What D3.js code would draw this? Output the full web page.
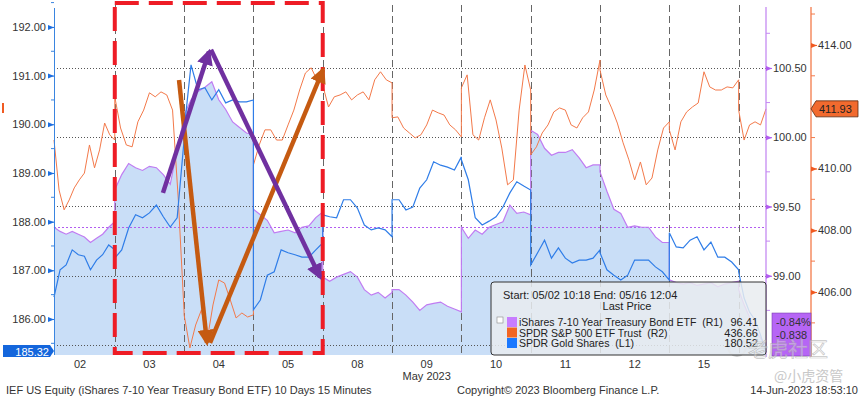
<!DOCTYPE html>
<html>
<head>
<meta charset="utf-8">
<script src="https://cdn.jsdelivr.net/npm/d3@7"></script>
<style>
body{margin:0;background:#fff;}
svg{display:block;font-family:"Liberation Sans",Arial,sans-serif;}
</style>
</head>
<body>
<svg id="chart" width="863" height="397"></svg>
<script>
// trading days shown on the x axis (May 2023), 16 has no label
var dayLabels = ["02","03","04","05","08","09","10","11","12","15"];
var firstOpen = 48;   // 10:18 = 48 min after 9:30
var lastClose = 154;  // 12:04

// iShares 7-10 Year Treasury Bond ETF (R1), one array per day
var iefValues = [
  [99.35,99.32,99.30,99.32,99.30,99.28,99.24,99.27,99.30,99.35,99.39],
  [99.62,99.73,99.81,99.78,99.76,99.79,99.78,99.73,99.66,99.91,100.14],
  [100.16,100.27,100.33,100.36,100.40,100.27,100.20,100.11,100.07,100.03,100.02],
  [99.48,99.44,99.40,99.31,99.32,99.33,99.31,99.35,99.36,99.42,99.46],
  [98.99,98.96,98.99,99.01,99.03,98.99,98.90,98.86,98.88,98.84,98.88],
  [98.90,98.90,98.86,98.81,98.75,98.79,98.80,98.81,98.78,98.76,98.74],
  [99.35,99.27,99.33,99.30,99.35,99.37,99.39,99.51,99.45,99.46,99.44],
  [100.05,100.02,99.92,99.87,99.89,99.89,99.91,99.85,99.78,99.80,99.80],
  [99.75,99.61,99.48,99.45,99.35,99.36,99.35,99.35,99.28,99.24,99.24],
  [98.97,98.95,98.94,98.95,98.93,98.94,98.95,98.92,98.94,98.95,98.96],
  [98.90,98.79,98.70,98.61,98.55,98.50]
];
// SPDR S&P 500 ETF Trust (R2)
var spyValues = [
  [410.92,409.30,408.66,408.98,409.37,409.63,409.85,410.76,410.02,410.60,411.47,411.09,410.92],
  [412.32,411.31,410.76,410.70,411.51,411.89,412.45,412.32,412.48,412.38,411.89,408.98,405.35],
  [405.26,404.19,404.93,405.42,404.45,405.58,406.39,406.29,405.74,405.16,405.32,405.19,405.26],
  [410.11,410.76,411.25,411.25,410.92,410.92,411.41,411.89,412.54,413.09,413.26,412.87,413.03],
  [412.70,411.99,412.32,412.38,412.48,412.22,412.38,412.48,412.22,412.87,413.13,412.87,412.77],
  [411.64,411.67,411.31,411.15,410.99,411.09,411.41,411.89,411.80,411.73,411.41,411.25,411.02],
  [412.61,413.03,411.09,410.92,411.64,412.22,411.57,410.66,409.47,409.63,411.89,413.35,412.54],
  [410.44,410.70,411.15,411.41,411.83,411.96,411.89,411.41,411.31,411.64,411.83,412.54,413.51],
  [413.19,412.38,411.96,411.47,410.83,410.28,409.63,410.21,409.47,409.69,410.60,411.31,411.51],
  [411.25,410.60,411.51,411.83,411.99,412.12,413.13,412.64,412.54,412.54,412.64,412.61,412.87],
  [411.89,410.92,411.41,411.51,411.41,411.93]
];
// SPDR Gold Shares (L1)
var gldValues = [
  [186.45,187.01,187.11,187.42,187.32,187.29,187.01,187.21,187.32,187.52,187.42],
  [187.25,187.42,187.87,188.14,188.08,188.18,188.34,188.10,187.89,188.08,189.68],
  [189.88,191.22,190.71,190.75,190.50,190.71,190.44,190.50,190.46,190.46,190.50],
  [186.19,186.39,186.90,186.97,187.42,187.36,187.32,187.27,187.27,187.42,187.56],
  [188.14,188.10,188.08,188.45,188.45,188.28,187.93,187.83,187.87,187.83,187.69],
  [188.45,188.45,188.24,188.30,188.69,188.86,189.23,189.16,189.12,189.06,189.33],
  [189.27,188.86,188.08,187.93,188.01,188.10,188.30,188.59,188.82,188.73,188.65],
  [187.11,187.36,187.62,187.25,187.46,187.25,187.15,187.21,187.21,187.25,187.42],
  [187.36,187.01,186.90,186.80,186.90,187.21,187.21,187.21,187.07,186.97,186.80],
  [187.77,187.48,187.46,187.62,187.69,187.42,187.58,187.27,187.27,187.17,187.01],
  [186.97,186.43,186.14,185.98,185.67,185.32]
];

var leftTicks = [186,187,188,189,190,191,192];
var r1Ticks = [98.5,99,99.5,100,100.5];
var r2Ticks = [406,408,410,414];   // 412 sits under the last price tag

var legendRows = [
  {name:"iShares 7-10 Year Treasury Bond ETF\u00a0\u00a0(R1)", last:"96.41", color:"#c77dff"},
  {name:"SPDR S&P 500 ETF Trust\u00a0\u00a0(R2)", last:"436.66", color:"#f26522"},
  {name:"SPDR Gold Shares\u00a0\u00a0(L1)", last:"180.52", color:"#1a78ff"}
];

// hand drawn arrows, [day position, gold price]
var purpleArrows = [[[1.695,188.59],[2.359,191.49]], [[2.388,191.53],[3.961,186.86]]];
var orangeArrows = [[[1.927,190.91],[2.330,185.51]], [[2.374,185.51],[4.004,191.12]]];

var svg = d3.select("#chart");
var plot = {left:54, right:766, top:6, bottom:355};

function toPoints(series){
  var pts = [];
  series.forEach(function(vals, d){
    var a = d === 0 ? firstOpen : 0;
    var b = d === series.length-1 ? lastClose : 390;
    vals.forEach(function(v, k){
      pts.push({t: d*390 + a + k*(b-a)/(vals.length-1), v: v});
    });
  });
  return pts;
}
var ief = toPoints(iefValues), spy = toPoints(spyValues), gld = toPoints(gldValues);

var x = d3.scaleLinear().domain([firstOpen, 10*390+lastClose]).range([plot.left, plot.right]);
var yL = d3.scaleLinear().domain([185.26,192.43]).range([plot.bottom, plot.top]);
var yR1 = d3.scaleLinear().domain([98.428,100.947]).range([plot.bottom, plot.top]);
var yR2 = d3.scaleLinear().domain([403.96,415.26]).range([plot.bottom, plot.top]);

// area under the bond ETF
svg.append("path")
  .datum(ief)
  .attr("fill", "#c9def7")
  .attr("d", d3.area().x(d => x(d.t)).y0(plot.bottom).y1(d => yR1(d.v)));

// grid
svg.append("g").selectAll("line").data(r1Ticks).join("line")
  .attr("x1", plot.left).attr("x2", plot.right)
  .attr("y1", d => Math.round(yR1(d))+0.5).attr("y2", d => Math.round(yR1(d))+0.5)
  .attr("stroke", "#555").attr("stroke-dasharray", "1,2");
svg.append("line")
  .attr("x1", plot.left).attr("x2", plot.right)
  .attr("y1", Math.round(yR1(ief[0].v))+0.5).attr("y2", Math.round(yR1(ief[0].v))+0.5)
  .attr("stroke", "#b25cf0").attr("stroke-width", 1.2).attr("stroke-dasharray", "2,2");
svg.append("g").selectAll("line").data(d3.range(1, 11)).join("line")
  .attr("x1", d => Math.round(x(d*390))+0.5).attr("x2", d => Math.round(x(d*390))+0.5)
  .attr("y1", plot.top-1).attr("y2", plot.bottom)
  .attr("stroke", "#666").attr("stroke-dasharray", "7,4");

// series
svg.append("path").datum(ief).attr("fill","none").attr("stroke","#c07cf2").attr("stroke-width",1.2)
  .attr("d", d3.line().x(d => x(d.t)).y(d => yR1(d.v)));
svg.append("path").datum(spy).attr("fill","none").attr("stroke","#f3794a").attr("stroke-width",1)
  .attr("d", d3.line().x(d => x(d.t)).y(d => yR2(d.v)));
svg.append("path").datum(gld).attr("fill","none").attr("stroke","#2f7de8").attr("stroke-width",1.2)
  .attr("d", d3.line().x(d => x(d.t)).y(d => yL(d.v)));

// left axis
var gl = svg.append("g").attr("transform", "translate(" + plot.left + ",0)");
gl.call(d3.axisLeft(yL).tickValues(leftTicks).tickFormat(d3.format(".2f")).tickSize(0).tickPadding(8));
gl.select(".domain").attr("stroke", "#3a85e0").attr("d", "M0.5," + (plot.top+2) + "V" + plot.bottom);
gl.selectAll(".tick").append("path").attr("d", "M-6,-2.5L0,0L-6,2.5Z").attr("fill", "#1f6fe0");
gl.selectAll(".tick").append("line").attr("x1",-6).attr("x2",0).attr("stroke","#1f6fe0");
gl.selectAll(".minor").data(leftTicks.map(d => d + 0.5).concat([185.5])).join("line")
  .attr("x1", -3).attr("x2", 0)
  .attr("y1", d => yL(d)).attr("y2", d => yL(d)).attr("stroke", "#3a85e0");

// right axes
function rightAxis(scale, xpos, ticks, minor, color, mark){
  var g = svg.append("g").attr("transform", "translate(" + xpos + ",0)");
  g.call(d3.axisRight(scale).tickValues(ticks).tickFormat(d3.format(".2f")).tickSize(0).tickPadding(7));
  g.select(".domain").attr("stroke", color).attr("stroke-width", 1.3).attr("d", "M0," + (plot.top+1) + "V" + (plot.bottom+2));
  g.selectAll(".tick").append("path").attr("d", "M0,-2.5L6,0L0,2.5Z").attr("fill", mark);
  g.selectAll(".tick").append("line").attr("x1",0).attr("x2",6).attr("stroke",mark);
  g.selectAll(".minor").data(minor).join("line")
    .attr("x1", 0).attr("x2", 4)
    .attr("y1", d => scale(d)).attr("y2", d => scale(d)).attr("stroke", color);
  return g;
}
rightAxis(yR1, plot.right, r1Ticks.slice(1), [98.75,99.25,99.75,100.25,100.75], "#c58af2", "#b25cf0");
rightAxis(yR2, 811, r2Ticks, [405,407,409,411,413,415], "#f37a4a", "#f05a22");

svg.selectAll("g.tick text").attr("fill", "#333").attr("font-size", 11).attr("font-family", "Liberation Sans");

// x labels
svg.append("g").selectAll("text").data(dayLabels).join("text")
  .attr("x", (d, i) => x(i*390 + 195)).attr("y", 368)
  .attr("text-anchor", "middle").attr("font-size", 11).attr("fill", "#333").text(d => d);
svg.append("text").attr("x", x(5*390+195)).attr("y", 380).attr("text-anchor", "middle")
  .attr("font-size", 11).attr("fill", "#333").text("May 2023");

// annotation: red dashed box over 03-05
svg.append("rect")
  .attr("x", x(390)).attr("y", 3)
  .attr("width", x(4*390) - x(390)).attr("height", 350)
  .attr("fill", "none").attr("stroke", "#ee1c25").attr("stroke-width", 4)
  .attr("stroke-dasharray", "24,10");

var defs = svg.append("defs");
[["ph","#7030a0"],["oh","#c55a11"]].forEach(function(m){
  defs.append("marker").attr("id", m[0]).attr("viewBox", "0 0 10 10")
    .attr("refX", 8).attr("refY", 5).attr("markerWidth", 3.6).attr("markerHeight", 3.6)
    .attr("markerUnits", "strokeWidth").attr("orient", "auto")
    .append("path").attr("d", "M0,0L10,5L0,10Z").attr("fill", m[1]);
});
function drawArrows(list, color, head){
  svg.append("g").selectAll("line").data(list).join("line")
    .attr("x1", d => x(d[0][0]*390)).attr("y1", d => yL(d[0][1]))
    .attr("x2", d => x(d[1][0]*390)).attr("y2", d => yL(d[1][1]))
    .attr("stroke", color).attr("stroke-width", 4.5)
    .attr("marker-end", "url(#" + head + ")");
}
drawArrows(orangeArrows, "#c55a11", "oh");
drawArrows(purpleArrows, "#7030a0", "ph");

// watermark ring (under the legend, as in the source image)
svg.append("circle").attr("cx", 737).attr("cy", 347).attr("r", 9)
  .attr("fill", "none").attr("stroke", "#bbb").attr("stroke-width", 2).attr("opacity", 0.7);

// legend
var lg = svg.append("g").attr("transform", "translate(491,282)");
lg.append("rect").attr("width", 275).attr("height", 73).attr("rx", 3)
  .attr("fill", "#e9ecf0").attr("fill-opacity", 0.85).attr("stroke", "#333");
lg.append("text").attr("x", 12).attr("y", 17).attr("font-size", 11).attr("fill", "#222")
  .text("Start: 05/02 10:18 End: 05/16 12:04");
lg.append("text").attr("x", 136).attr("y", 28).attr("text-anchor", "middle").attr("font-size", 11).attr("fill", "#222")
  .text("Last Price");
lg.append("rect").attr("x", 6).attr("y", 35).attr("width", 6).attr("height", 6)
  .attr("fill", "#fff").attr("stroke", "#888").attr("stroke-width", 0.6);
var rows = lg.selectAll(".row").data(legendRows).join("g").attr("class", "row")
  .attr("transform", (d, i) => "translate(0," + (40 + i*10.5) + ")");
rows.append("rect").attr("x", 16).attr("y", -5).attr("width", 10).attr("height", 10).attr("fill", d => d.color);
rows.append("text").attr("x", 28).attr("y", 4).attr("font-size", 10.5).attr("fill", "#222").text(d => d.name);
rows.append("text").attr("x", 267).attr("y", 4).attr("text-anchor", "end").attr("font-size", 11).attr("fill", "#222").text(d => d.last);

// last value tags
var ySpy = yR2(spy[spy.length-1].v);
svg.append("path")
  .attr("d", "M811," + ySpy + "L816," + (ySpy-8) + "H858V" + (ySpy+8) + "H816Z")
  .attr("fill", "#f26a2e").attr("stroke", "#5a2a10").attr("stroke-width", 0.8);
svg.append("text").attr("x", 819).attr("y", ySpy+4).attr("font-size", 11).attr("fill", "#222")
  .text(d3.format(".2f")(spy[spy.length-1].v));

var yG = Math.min(yL(gld[gld.length-1].v), 351);
svg.append("path")
  .attr("d", "M3," + (yG-6) + "H50L54," + yG + "L50," + (yG+6) + "H3Z")
  .attr("fill", "#1466dc");
svg.append("text").attr("x", 49).attr("y", yG+5).attr("text-anchor", "end").attr("font-size", 11).attr("fill", "#fff")
  .text(d3.format(".2f")(gld[gld.length-1].v));

svg.append("rect").attr("x", 2).attr("y", 103).attr("width", 2).attr("height", 10).attr("fill", "#f05a22");

var yI = yR1(ief[ief.length-1].v);
var pg = svg.append("g").attr("transform", "translate(772," + (yI-32) + ")");
pg.append("rect").attr("width", 39).attr("height", 43).attr("fill", "#b665f5").attr("stroke", "#7a3fb0").attr("stroke-width", 0.6);
pg.selectAll("text").data(["-0.84%", "-0.838"]).join("text")
  .attr("x", 4).attr("y", (d, i) => 13 + i*13).attr("font-size", 11).attr("fill", "#333").text(d => d);

// footer
svg.append("text").attr("x", 6).attr("y", 394).attr("font-size", 11).attr("fill", "#333")
  .text("IEF US Equity (iShares 7-10 Year Treasury Bond ETF) 10 Days 15 Minutes");
svg.append("text").attr("x", 457).attr("y", 394).attr("font-size", 11).attr("fill", "#333")
  .text("Copyright\u00a9 2023 Bloomberg Finance L.P.");
svg.append("text").attr("x", 858).attr("y", 394).attr("text-anchor", "end").attr("font-size", 11).attr("fill", "#333")
  .text("14-Jun-2023 18:53:10");

// watermark text
svg.append("text").attr("x", 748).attr("y", 357).attr("font-size", 20)
  .attr("font-family", "Noto Sans CJK SC").attr("fill", "#fff").attr("fill-opacity", 0.35)
  .attr("stroke", "#aaa").attr("stroke-opacity", 0.7).attr("stroke-width", 0.7).text("老虎社区");
svg.append("text").attr("x", 774).attr("y", 381).attr("font-size", 14)
  .attr("font-family", "Noto Sans CJK SC").attr("fill", "#c8c8c8").text("@小虎资管");
</script>
</body>
</html>
